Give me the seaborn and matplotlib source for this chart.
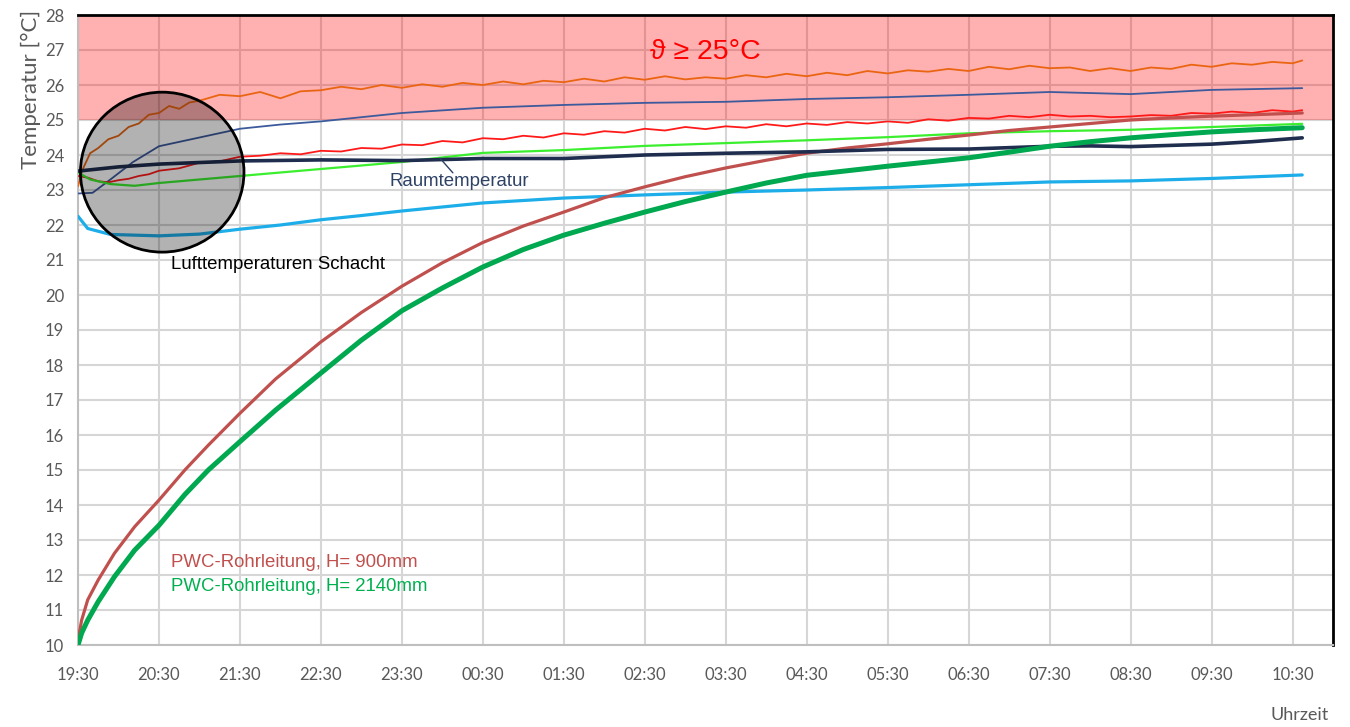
import matplotlib
matplotlib.use("Agg")
import matplotlib.pyplot as plt
import seaborn as sns
from matplotlib.patches import Ellipse

# ---------------- data (hours after 19:30, temperature in °C) ----------------
tick_labels = ["19:30", "20:30", "21:30", "22:30", "23:30", "00:30", "01:30", "02:30",
               "03:30", "04:30", "05:30", "06:30", "07:30", "08:30", "09:30", "10:30"]
y_ticks = list(range(10, 29))

orange_t = [0, 0.05, 0.10, 0.15, 0.25, 0.375, 0.5, 0.625, 0.75, 0.875, 1.0, 1.125, 1.25, 1.375, 1.5,
            1.75, 2.0, 2.25, 2.5, 2.75, 3.0, 3.25, 3.5, 3.75, 4.0, 4.25, 4.5, 4.75, 5.0, 5.25, 5.5,
            5.75, 6.0, 6.25, 6.5, 6.75, 7.0, 7.25, 7.5, 7.75, 8.0, 8.25, 8.5, 8.75, 9.0, 9.25, 9.5,
            9.75, 10.0, 10.25, 10.5, 10.75, 11.0, 11.25, 11.5, 11.75, 12.0, 12.25, 12.5, 12.75, 13.0,
            13.25, 13.5, 13.75, 14.0, 14.25, 14.5, 14.75, 15.0, 15.12]
orange_v = [23.10, 23.55, 23.80, 24.05, 24.20, 24.45, 24.55, 24.80, 24.90, 25.15, 25.20, 25.40, 25.32,
            25.50, 25.55, 25.72, 25.68, 25.80, 25.62, 25.82, 25.85, 25.95, 25.88, 26.00, 25.92, 26.02,
            25.95, 26.06, 26.00, 26.10, 26.02, 26.12, 26.08, 26.18, 26.10, 26.22, 26.15, 26.25, 26.16,
            26.22, 26.18, 26.28, 26.22, 26.32, 26.25, 26.35, 26.28, 26.40, 26.33, 26.42, 26.38, 26.46,
            26.40, 26.52, 26.45, 26.55, 26.48, 26.50, 26.40, 26.48, 26.40, 26.50, 26.46, 26.58, 26.52,
            26.62, 26.58, 26.66, 26.62, 26.70]

red_t = [0, 0.125, 0.25, 0.375, 0.5, 0.625, 0.75, 0.875, 1.0, 1.25, 1.5, 1.75, 2.0, 2.25, 2.5, 2.75,
         3.0, 3.25, 3.5, 3.75, 4.0, 4.25, 4.5, 4.75, 5.0, 5.25, 5.5, 5.75, 6.0, 6.25, 6.5, 6.75, 7.0,
         7.25, 7.5, 7.75, 8.0, 8.25, 8.5, 8.75, 9.0, 9.25, 9.5, 9.75, 10.0, 10.25, 10.5, 10.75, 11.0,
         11.25, 11.5, 11.75, 12.0, 12.25, 12.5, 12.75, 13.0, 13.25, 13.5, 13.75, 14.0, 14.25, 14.5,
         14.75, 15.0, 15.12]
red_v = [23.40, 23.35, 23.25, 23.22, 23.28, 23.32, 23.40, 23.45, 23.55, 23.62, 23.78, 23.82, 23.95,
         23.98, 24.05, 24.02, 24.12, 24.10, 24.20, 24.18, 24.30, 24.28, 24.40, 24.36, 24.48, 24.45,
         24.55, 24.50, 24.62, 24.58, 24.68, 24.64, 24.75, 24.70, 24.80, 24.74, 24.82, 24.78, 24.88,
         24.82, 24.90, 24.86, 24.94, 24.90, 24.96, 24.92, 25.02, 24.98, 25.06, 25.04, 25.12, 25.08,
         25.15, 25.10, 25.12, 25.08, 25.10, 25.14, 25.12, 25.20, 25.18, 25.24, 25.20, 25.28, 25.24,
         25.28]

blue_t = [0, 0.18, 0.4, 0.68, 1, 1.5, 2, 2.5, 3, 3.5, 4, 5, 6, 7, 8, 9, 10, 11, 12, 13, 14, 15.12]
blue_v = [22.90, 22.92, 23.30, 23.80, 24.25, 24.50, 24.75, 24.87, 24.96, 25.08, 25.20, 25.35, 25.43,
          25.49, 25.52, 25.60, 25.65, 25.72, 25.80, 25.74, 25.86, 25.91]

lgreen_t = [0, 0.15, 0.4, 0.7, 1, 1.5, 2, 3, 4, 5, 6, 7, 8, 9, 10, 11, 12, 13, 14, 15.12]
lgreen_v = [23.50, 23.30, 23.17, 23.12, 23.20, 23.30, 23.40, 23.60, 23.80, 24.06, 24.14, 24.26, 24.34,
            24.42, 24.51, 24.62, 24.68, 24.72, 24.80, 24.89]

room_t = [0, 0.5, 1, 2, 3, 4, 5, 6, 7, 8, 9, 10, 11, 12, 12.5, 13, 14, 14.5, 15.12]
room_v = [23.54, 23.66, 23.74, 23.83, 23.86, 23.84, 23.90, 23.90, 24.00, 24.05, 24.09, 24.16, 24.17,
          24.25, 24.26, 24.24, 24.31, 24.38, 24.49]

cyan_t = [0, 0.12, 0.4, 1, 1.5, 2, 2.5, 3, 3.5, 4, 5, 6, 7, 8, 9, 10, 11, 12, 13, 14, 15.12]
cyan_v = [22.25, 21.90, 21.73, 21.69, 21.74, 21.88, 22.00, 22.15, 22.27, 22.40, 22.63, 22.77, 22.86,
          22.94, 23.00, 23.07, 23.15, 23.23, 23.26, 23.33, 23.43]

pipe_t = [0, 0.045, 0.12, 0.25, 0.45, 0.7, 1, 1.32, 1.61, 2, 2.44, 3, 3.5, 4, 4.5, 5, 5.5, 6, 6.5,
          7, 7.5, 8, 8.5, 9, 9.5, 10, 10.5, 11, 11.5, 12, 12.5, 13, 13.5, 14, 14.5, 15.12]
pipe900_v = [10.14, 10.71, 11.29, 11.86, 12.62, 13.38, 14.14, 15.00, 15.71, 16.62, 17.60, 18.66, 19.50,
             20.25, 20.92, 21.50, 21.97, 22.37, 22.78, 23.09, 23.38, 23.63, 23.85, 24.05, 24.20, 24.32,
             24.45, 24.57, 24.70, 24.80, 24.90, 25.00, 25.06, 25.11, 25.15, 25.20]
pipe2140_v = [10.00, 10.34, 10.71, 11.24, 11.95, 12.71, 13.42, 14.30, 15.00, 15.81, 16.71, 17.77, 18.71,
              19.55, 20.20, 20.80, 21.30, 21.71, 22.05, 22.37, 22.67, 22.94, 23.20, 23.42, 23.55, 23.68,
              23.80, 23.92, 24.08, 24.25, 24.38, 24.49, 24.58, 24.66, 24.72, 24.78]

# ---------------- figure ----------------
sns.set_theme(style="white")
plt.rcParams["font.family"] = ["Liberation Sans", "DejaVu Sans"]

W, H = 1350, 727
fig = plt.figure(figsize=(W / 100, H / 100), dpi=100)
ax = fig.add_axes([78 / W, 1 - 645 / H, (1333 - 78) / W, 630 / H])

ax.set_xlim(0, 15.5)
ax.set_ylim(10, 28)
ax.set_xticks(range(len(tick_labels)))
ax.set_xticklabels(tick_labels)
ax.set_yticks(y_ticks)
ax.set_axisbelow(True)
ax.grid(True, color="#D6D6D6", linewidth=1.5)

# critical zone
ax.axhspan(25, 28, color="red", alpha=0.31, linewidth=0, zorder=1.5)

series = [
    (cyan_t, cyan_v, "#1DAEEA", 2.3, 3),
    (blue_t, blue_v, "#3C5A9C", 1.3, 3),
    (orange_t, orange_v, "#EA6512", 1.3, 3),
    (red_t, red_v, "#FF1A1A", 1.3, 3),
    (lgreen_t, lgreen_v, "#3BEF2E", 1.6, 3),
    (pipe_t, pipe900_v, "#C0504D", 2.3, 4),
    (room_t, room_v, "#1F2D4E", 2.6, 4),
    (pipe_t, pipe2140_v, "#00A84F", 3.6, 5),
]
for t, v, c, lw, z in series:
    sns.lineplot(x=t, y=v, ax=ax, color=c, linewidth=lw, zorder=z, legend=False)

# magnifier-style circle
ax.add_patch(Ellipse((1.04, 23.51), 2.02, 4.57, facecolor=(0, 0, 0, 0.3),
                     edgecolor="black", linewidth=2, zorder=6))

# annotations
fs = 13.4
ax.text(7.75, 26.74, "ϑ ≥ 25°C", color="#FF0000", fontsize=20.5, ha="center", va="baseline",
        family=["Liberation Sans", "DejaVu Sans"], zorder=7)
ax.text(1.15, 20.86, "Lufttemperaturen Schacht", color="black", fontsize=fs, ha="left",
        va="center", zorder=7)
ax.text(3.85, 23.23, "Raumtemperatur", color="#2E4266", fontsize=fs, ha="left", va="center", zorder=7)
ax.plot([4.47, 4.63], [23.91, 23.49], color="#2E4266", linewidth=1, zorder=7)
ax.text(1.15, 12.37, "PWC-Rohrleitung, H= 900mm", color="#C0504D", fontsize=fs, ha="left",
        va="center", zorder=7)
ax.text(1.15, 11.66, "PWC-Rohrleitung, H= 2140mm", color="#00B050", fontsize=fs, ha="left",
        va="center", zorder=7)

# spines
for s in ["left", "bottom"]:
    ax.spines[s].set_color("#BFBFBF")
    ax.spines[s].set_linewidth(1.5)
for s in ["top", "right"]:
    ax.spines[s].set_color("black")
    ax.spines[s].set_linewidth(2)

ax.tick_params(axis="both", length=0, colors="#595959", labelsize=12)
ax.tick_params(axis="x", pad=16)
ax.tick_params(axis="y", pad=10)
for lbl in ax.get_xticklabels() + ax.get_yticklabels():
    lbl.set_fontfamily("Lato")

fig.text(31 / W, 1 - 89 / H, "Temperatur [°C]", rotation=90, ha="center", va="center",
         color="#595959", fontsize=16, family="Lato")
fig.text(1300 / W, 1 - 715 / H, "Uhrzeit", ha="center", va="center", color="#595959",
         fontsize=13, family="Lato")

fig.savefig("out.png", dpi=100)
